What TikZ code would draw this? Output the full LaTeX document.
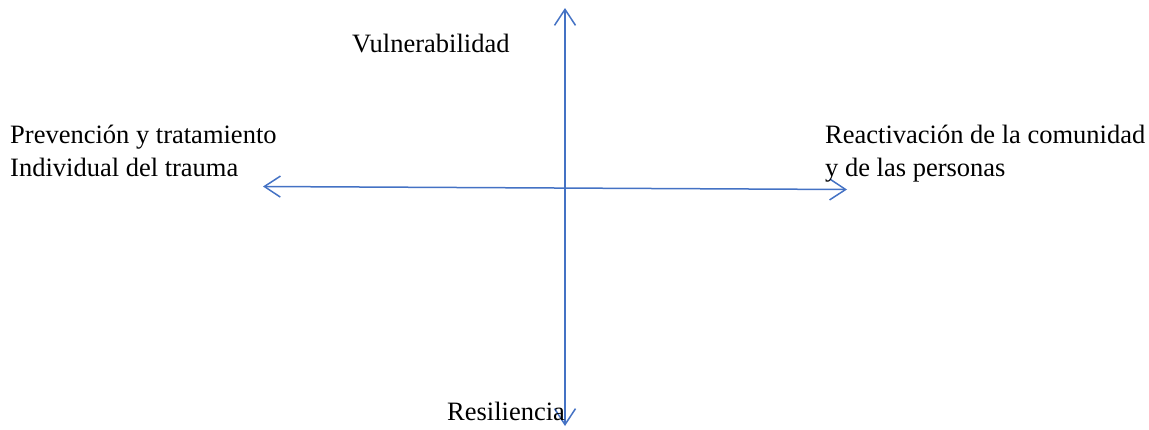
\documentclass[tikz,border=0pt]{standalone}
\usepackage{fontspec}
\setmainfont{Liberation Serif}
\usetikzlibrary{arrows.meta}
\begin{document}
\begin{tikzpicture}[x=1pt,y=-1pt,
  axis/.style={draw={rgb,255:red,68;green,114;blue,196}, line width=1.5pt,
    {Straight Barb[length=16pt,width=21pt,line width=1.5pt]}-{Straight Barb[length=16pt,width=21pt,line width=1.5pt]}},
  lbl/.style={inner sep=0pt, anchor=base west, align=left, font=\fontsize{26.5}{33}\selectfont}]
\useasboundingbox (0,0) rectangle (1149,429);
\coordinate (top) at (565,8);
\coordinate (bot) at (565,426);
\coordinate (lft) at (263,186.5);
\coordinate (rgt) at (847,189.5);
\draw[axis] (top) -- (bot);
\draw[axis] (lft) -- (rgt);
\node[lbl] (vul) at (352,52) {Vulnerabilidad};
\node[lbl] (prev) at (10,176) {Prevención y tratamiento\\Individual del trauma};
\node[lbl] (react) at (825,176.5) {Reactivación de la comunidad\\y de las personas};
\node[lbl] (res) at (447,420) {Resiliencia};
\end{tikzpicture}
\end{document}
